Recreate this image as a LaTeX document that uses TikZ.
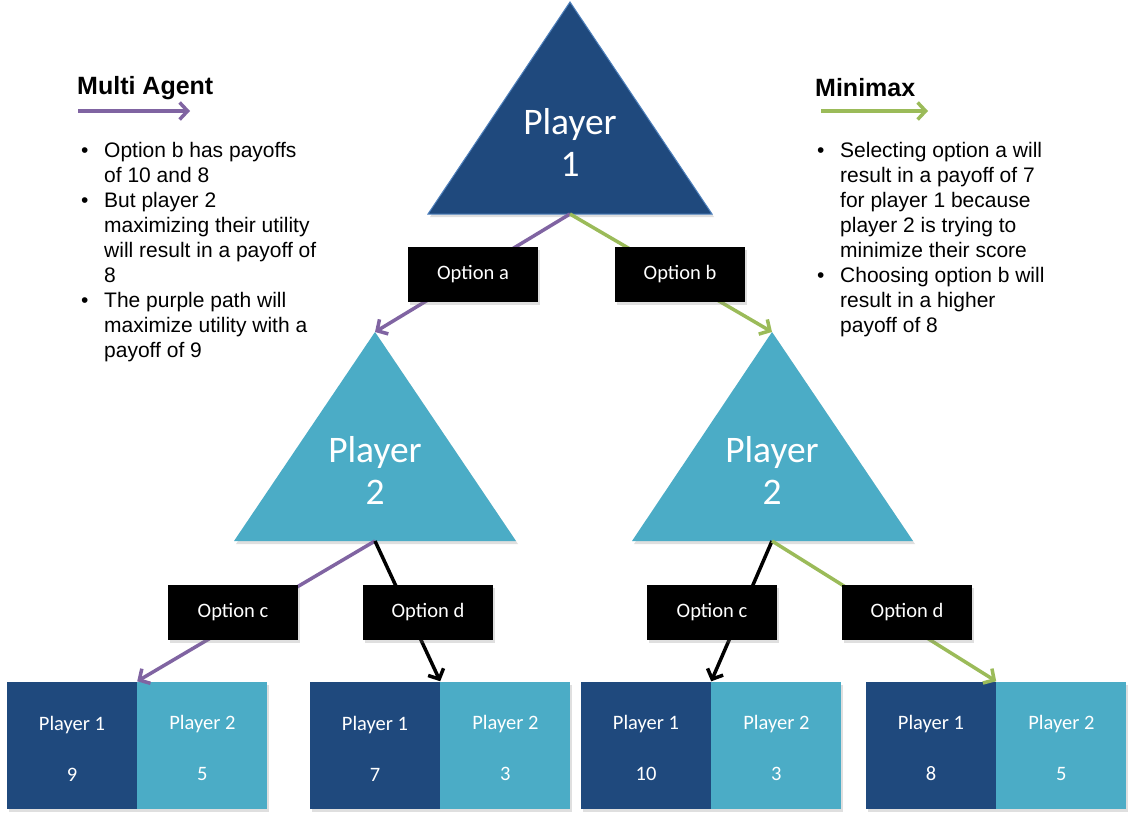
\documentclass[tikz,border=0pt]{standalone}
\usepackage{fontspec}
\setmainfont{Carlito}
\newfontfamily\arialfont{Liberation Sans}
\usetikzlibrary{positioning,arrows.meta,shadows}

\definecolor{darkblue}{HTML}{1F497D}
\definecolor{lightblue}{HTML}{4BACC6}
\definecolor{edgeblue}{HTML}{4F81BD}
\definecolor{maxpurple}{HTML}{8064A2}
\definecolor{mingreen}{HTML}{9BBB59}

\newcommand{\bulletmark}{\makebox[23pt][l]{\textbullet}}
\newcommand{\hang}{\hspace*{23pt}}
\newcommand{\payoff}[2]{\rule{0pt}{21pt}#1\\[27pt]#2}

\begin{document}
\begin{tikzpicture}
[
    x=1pt, y=-1pt,
    every node/.style={inner sep=0pt},
    softshadow/.style={drop shadow={shadow xshift=2pt, shadow yshift=-3pt, opacity=0.25}},
    trilabel/.style={text=white, align=center, font=\fontsize{37.5}{42}\selectfont},
    option/.style={fill=black, text=white, minimum width=130pt, minimum height=55pt, font=\fontsize{20.5}{24}\selectfont, softshadow},
    leaf/.style={minimum width=130pt, minimum height=127pt, text=white, align=center, font=\fontsize{20.5}{24}\selectfont, softshadow},
    link/.style={line width=3.5pt, -{Straight Barb[length=8pt, width=17pt, line width=3.5pt]}},
    legendtitle/.style={font=\arialfont\bfseries\fontsize{25}{28}\selectfont},
    legendtext/.style={align=left, font=\arialfont\fontsize{21}{25}\selectfont},
]
\useasboundingbox[fill=white] (0,0) rectangle (1134,821);

% triangle corners
\coordinate (p1top) at (570,2);   \coordinate (p1left) at (428,214); \coordinate (p1right) at (712,214); \coordinate (p1base) at (570,214);
\coordinate (p2atop) at (375,332); \coordinate (p2aleft) at (234,541); \coordinate (p2aright) at (516,541); \coordinate (p2abase) at (375,541);
\coordinate (p2btop) at (772,332); \coordinate (p2bleft) at (632,541); \coordinate (p2bright) at (913,541); \coordinate (p2bbase) at (772,541);

\fill[darkblue, draw=edgeblue, line width=1pt, softshadow] (p1top) -- (p1right) -- (p1left) -- cycle;
\fill[lightblue, softshadow] (p2atop) -- (p2aright) -- (p2aleft) -- cycle;
\fill[lightblue, softshadow] (p2btop) -- (p2bright) -- (p2bleft) -- cycle;

\node[trilabel] (p1) at (570,142) {Player\\1};
\node[trilabel] (p2a) at (375,470) {Player\\2};
\node[trilabel] (p2b) at (772,470) {Player\\2};

% payoff leaves
\node[leaf, fill=darkblue] (l1a) at (72,745) {\payoff{Player 1}{9}};
\node[leaf, fill=lightblue, right=0pt of l1a] (l1b) {\payoff{Player 2}{5}};
\node[leaf, fill=darkblue] (l2a) at (375,745) {\payoff{Player 1}{7}};
\node[leaf, fill=lightblue, right=0pt of l2a] (l2b) {\payoff{Player 2}{3}};
\node[leaf, fill=darkblue] (l3a) at (646,745) {\payoff{Player 1}{10}};
\node[leaf, fill=lightblue, right=0pt of l3a] (l3b) {\payoff{Player 2}{3}};
\node[leaf, fill=darkblue] (l4a) at (931,745) {\payoff{Player 1}{8}};
\node[leaf, fill=lightblue, right=0pt of l4a] (l4b) {\payoff{Player 2}{5}};

% moves
\draw[link, maxpurple] (p1base) -- (p2atop);
\draw[link, mingreen] (p1base) -- (p2btop);
\draw[link, maxpurple] (p2abase) -- (l1a.north east);
\draw[link, black] (p2abase) -- (l2a.north east);
\draw[link, black] (p2bbase) -- (l3a.north east);
\draw[link, mingreen] (p2bbase) -- (l4a.north east);

\node[option] (opta) at (473,274) {Option a};
\node[option] (optb) at (680,274) {Option b};
\node[option] (optc1) at (233,612) {Option c};
\node[option] (optd1) at (428,612) {Option d};
\node[option] (optc2) at (712,612) {Option c};
\node[option] (optd2) at (907,612) {Option d};

% legends
\node[legendtitle, anchor=west] (matitle) at (77,88) {Multi Agent};
\coordinate (mafrom) at (78,111); \coordinate (mato) at (190,111);
\draw[link, maxpurple] (mafrom) -- (mato);
\node[legendtext, anchor=north west] (matext) at (81,142)
{\bulletmark Option b has payoffs\\ \hang of 10 and 8\\ \bulletmark But player 2\\ \hang maximizing their utility\\
 \hang will result in a payoff of\\ \hang 8\\ \bulletmark The purple path will\\ \hang maximize utility with a\\ \hang payoff of 9};

\node[legendtitle, anchor=west] (mmtitle) at (815,88) {Minimax};
\coordinate (mmfrom) at (821,111); \coordinate (mmto) at (928,111);
\draw[link, mingreen] (mmfrom) -- (mmto);
\node[legendtext, anchor=north west] (mmtext) at (817,142)
{\bulletmark Selecting option a will\\ \hang result in a payoff of 7\\ \hang for player 1 because\\ \hang player 2 is trying to\\
 \hang minimize their score\\ \bulletmark Choosing option b will\\ \hang result in a higher\\ \hang payoff of 8};
\end{tikzpicture}
\end{document}
